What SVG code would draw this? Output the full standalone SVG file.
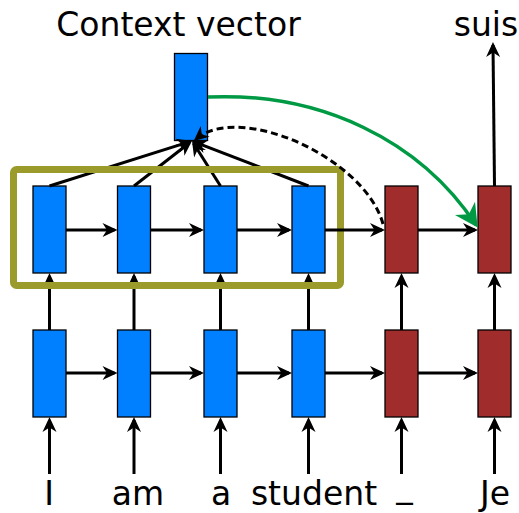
<svg xmlns="http://www.w3.org/2000/svg" width="519" height="513" viewBox="0 0 519 513">
  <style>
    .lbl { font-family: "DejaVu Sans", Verdana, sans-serif; font-size: 33px; fill: #000; }
    .enc { fill: #0080ff; stroke: #000; stroke-width: 1.3; }
    .dec { fill: #a02c2c; stroke: #000; stroke-width: 1.3; }
    .wire { fill: none; stroke: #000; stroke-width: 3; marker-end: url(#ah); }
    .dash { fill: none; stroke: #000; stroke-width: 3; stroke-dasharray: 7 4; marker-end: url(#ah); }
    .attn { fill: none; stroke: #009a44; stroke-width: 3.5; marker-end: url(#ahg); }
    .hl { fill: none; stroke: #9b9b2b; stroke-width: 7; }
  </style>
  <defs>
    <marker id="ah" markerUnits="userSpaceOnUse" orient="auto" overflow="visible" markerWidth="1" markerHeight="1" refX="0" refY="0">
      <path d="M3,0 L-12,-7 L-7.5,0 L-12,7 Z" fill="#000"/>
    </marker>
    <marker id="ahg" markerUnits="userSpaceOnUse" orient="auto" overflow="visible" markerWidth="1" markerHeight="1" refX="0" refY="0">
      <path d="M3,0 L-20,-12 L-13,0 L-20,12 Z" fill="#009a44"/>
    </marker>
  </defs>

  <!-- titles -->
  <text class="lbl" x="178.5" y="36" text-anchor="middle">Context vector</text>
  <text class="lbl" x="486" y="35.5" text-anchor="middle">suis</text>

  <!-- context vector -->
  <g id="context">
    <rect class="enc" x="174.5" y="53.5" width="33" height="87"/>
  </g>

  <!-- encoder, upper layer -->
  <g id="enc-top-1"><rect class="enc" x="33" y="186" width="33" height="87"/></g>
  <g id="enc-top-2"><rect class="enc" x="117.5" y="186" width="33" height="87"/></g>
  <g id="enc-top-3"><rect class="enc" x="204" y="186" width="33" height="87"/></g>
  <g id="enc-top-4"><rect class="enc" x="292" y="186" width="33" height="87"/></g>
  <!-- decoder, upper layer -->
  <g id="dec-top-1"><rect class="dec" x="385" y="186" width="33" height="87"/></g>
  <g id="dec-top-2"><rect class="dec" x="478" y="186" width="33" height="87"/></g>

  <!-- encoder, lower layer -->
  <g id="enc-bot-1"><rect class="enc" x="33" y="330" width="33" height="87"/></g>
  <g id="enc-bot-2"><rect class="enc" x="117.5" y="330" width="33" height="87"/></g>
  <g id="enc-bot-3"><rect class="enc" x="204" y="330" width="33" height="87"/></g>
  <g id="enc-bot-4"><rect class="enc" x="292" y="330" width="33" height="87"/></g>
  <!-- decoder, lower layer -->
  <g id="dec-bot-1"><rect class="dec" x="385" y="330" width="33" height="87"/></g>
  <g id="dec-bot-2"><rect class="dec" x="478" y="330" width="33" height="87"/></g>

  <!-- input tokens -->
  <g id="tokens">
    <text class="lbl" x="49" y="505" text-anchor="middle">I</text>
    <text class="lbl" x="138" y="505" text-anchor="middle">am</text>
    <text class="lbl" x="221" y="505" text-anchor="middle">a</text>
    <text class="lbl" x="314" y="505" text-anchor="middle">student</text>
    <text class="lbl" x="404.5" y="497" text-anchor="middle">_</text>
    <text class="lbl" x="495" y="505" text-anchor="middle">Je</text>
  </g>

  <g id="connectors">
    <!-- token inputs -->
    <line class="wire" x1="49.5" y1="474" x2="49.5" y2="420"/>
    <line class="wire" x1="134" y1="474" x2="134" y2="420"/>
    <line class="wire" x1="220.5" y1="474" x2="220.5" y2="420"/>
    <line class="wire" x1="308.5" y1="474" x2="308.5" y2="420"/>
    <line class="wire" x1="401.5" y1="474" x2="401.5" y2="420"/>
    <line class="wire" x1="494.5" y1="474" x2="494.5" y2="420"/>

    <!-- lower to upper layer -->
    <line class="wire" x1="49.5" y1="330" x2="49.5" y2="276"/>
    <line class="wire" x1="134" y1="330" x2="134" y2="276"/>
    <line class="wire" x1="220.5" y1="330" x2="220.5" y2="276"/>
    <line class="wire" x1="308.5" y1="330" x2="308.5" y2="276"/>
    <line class="wire" x1="401.5" y1="330" x2="401.5" y2="276"/>
    <line class="wire" x1="494.5" y1="330" x2="494.5" y2="276"/>

    <!-- lower recurrence -->
    <line class="wire" x1="66" y1="373" x2="114.5" y2="373"/>
    <line class="wire" x1="150.5" y1="373" x2="201" y2="373"/>
    <line class="wire" x1="237" y1="373" x2="289" y2="373"/>
    <line class="wire" x1="325" y1="373" x2="382" y2="373"/>
    <line class="wire" x1="418" y1="373" x2="475" y2="373"/>

    <!-- encoder states to context vector -->
    <line class="wire" x1="49.5" y1="186" x2="189.1" y2="141.9"/>
    <line class="wire" x1="134" y1="186" x2="189.6" y2="142.8"/>
    <line class="wire" x1="220.5" y1="186" x2="193.6" y2="143.5"/>
    <line class="wire" x1="308.5" y1="186" x2="194.8" y2="142.1"/>

    <!-- output -->
    <line class="wire" x1="494.5" y1="186" x2="493" y2="45"/>
  </g>

  <!-- encoder highlight -->
  <g id="encoder-highlight">
    <rect class="hl" x="13.5" y="169.5" width="327" height="116" rx="3"/>
  </g>

  <g id="connectors-front">
    <!-- upper recurrence -->
    <line class="wire" x1="66" y1="230" x2="114.5" y2="230"/>
    <line class="wire" x1="150.5" y1="230" x2="201" y2="230"/>
    <line class="wire" x1="237" y1="230" x2="289" y2="230"/>
    <line class="wire" x1="325" y1="230" x2="382" y2="230"/>
    <line class="wire" x1="418" y1="230" x2="475" y2="230"/>
    <!-- decoder state queries the context -->
    <path class="dash" d="M383,224 C365,158 240,102 196,139"/>
    <!-- context fed to decoder -->
    <path class="attn" d="M208,97 C320,92 420,140 476,225"/>
  </g>
</svg>
